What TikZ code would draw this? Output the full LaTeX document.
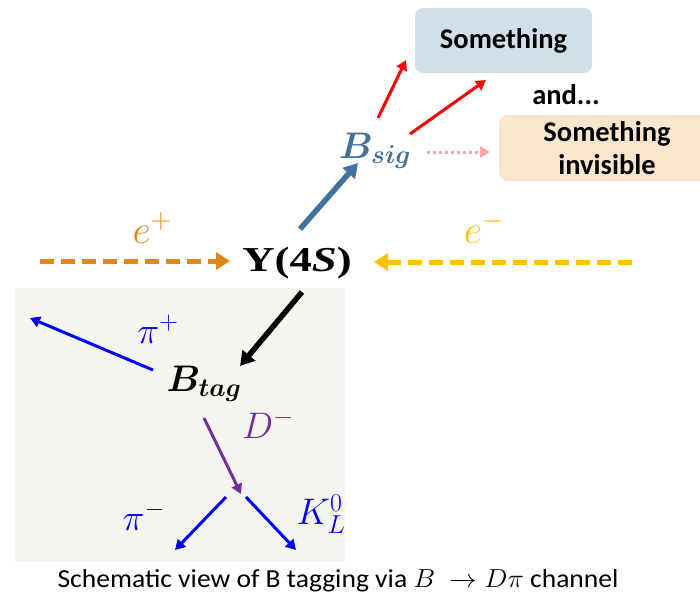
\RequirePackage{fix-cm}
\documentclass[tikz,border=0pt]{standalone}
\usepackage{graphicx}
\usepackage{fontspec}
\setmainfont{Carlito}
\newfontfamily\upsfont{Liberation Serif}
\usepackage{bm}
\usetikzlibrary{arrows.meta}
\definecolor{sigblue}{HTML}{41719C}
\definecolor{boxblue}{HTML}{D0E0EA}
\definecolor{boxpeach}{HTML}{FBE5CD}
\definecolor{eplus}{HTML}{E0861A}
\definecolor{eminus}{HTML}{FFC000}
\definecolor{pinkd}{HTML}{F8A8A8}
\definecolor{dpurple}{HTML}{7030A0}
\definecolor{bgray}{HTML}{F6F6F1}
\definecolor{pblue}{HTML}{0000FF}
\begin{document}
\begin{tikzpicture}[x=1pt,y=-1pt,
  box/.style={rounded corners=8pt, inner sep=0pt, align=center, font=\fontsize{28.5}{33}\selectfont\bfseries},
  particle/.style={inner sep=1pt, font=\fontsize{37}{40}\selectfont},
  lbl/.style={inner sep=1pt, font=\fontsize{37}{40}\selectfont},
  thickarrow/.style={line width=5.5pt, -{Triangle[length=14pt,width=16pt]}},
  thinarrow/.style={line width=3pt, -{Triangle[length=10pt,width=11pt]}},
  beam/.style={line width=5pt, dash pattern=on 14pt off 7pt, -{Triangle[length=14pt,width=17pt]}}
]
\useasboundingbox (0,0) rectangle (700,600);
\fill[bgray] (15,288) rectangle (345,562);

% boxes
\node[box, fill=boxblue, minimum width=177pt, minimum height=65pt] (s1) at (503.5,40.5) {Something};
\begin{scope}
\clip (0,0) rectangle (700,600);
\node[box, fill=boxpeach, minimum width=216pt, minimum height=66pt] (s2) at (607,148) {Something\\invisible};
\end{scope}
\node[font=\fontsize{28.5}{30}\selectfont\bfseries, inner sep=0pt] (and) at (566,95) {and...};

% particles
\node[particle, font=\fontsize{35}{38}\selectfont] (ups) at (297,263) {\scalebox{1.28}[1]{\upsfont\bfseries Υ(4\textit{S})}};
\node[particle, text=sigblue] (bsig) at (375,151) {$\bm{B_{sig}}$};
\node[particle] (btag) at (204,384) {$\bm{B_{tag}}$};

% beams
\coordinate (ep0) at (40,261);
\coordinate (ep1) at (230,261);
\coordinate (em0) at (632,262);
\coordinate (em1) at (374,262);
\draw[beam, eplus] (ep0) -- (ep1);
\draw[beam, eminus] (em0) -- (em1);
\node[lbl, font=\fontsize{40}{42}\selectfont, text=eplus] (eplab) at (152,228) {$e^{+}$};
\node[lbl, font=\fontsize{40}{42}\selectfont, text=eminus] (emlab) at (484,228) {$e^{-}$};

% Upsilon decays
\coordinate (u1) at (300,229);
\coordinate (u2) at (302,292);
\coordinate (u3) at (358,163);
\coordinate (u4) at (240,366);
\draw[thickarrow, sigblue] (u1) -- (u3);
\draw[thickarrow, black] (u2) -- (u4);

% B_sig decays
\coordinate (r1a) at (378,118);
\coordinate (r1b) at (406,60);
\coordinate (r2a) at (410,134);
\coordinate (r2b) at (486,80);
\draw[thinarrow, red] (r1a) -- (r1b);
\draw[thinarrow, red] (r2a) -- (r2b);
\coordinate (pa) at (427,152);
\coordinate (pb) at (490,152);
\draw[line width=3pt, pinkd, dash pattern=on 3pt off 3pt, -{Triangle[length=10pt,width=11pt]}] (pa) -- (pb);

% B_tag decays
\coordinate (pip0) at (153,370);
\coordinate (pip1) at (30,318);
\draw[thinarrow, pblue] (pip0) -- (pip1);
\node[lbl, text=pblue] (piplab) at (158,329) {$\pi^{+}$};
\coordinate (d0) at (204,418);
\coordinate (d1) at (241,494);
\draw[thinarrow, dpurple] (d0) -- (d1);
\node[lbl, text=dpurple] (dlab) at (268,424) {$D^{-}$};
\coordinate (pim0) at (226,497);
\coordinate (pim1) at (175,550);
\draw[thinarrow, pblue] (pim0) -- (pim1);
\node[lbl, text=pblue] (pimlab) at (144,516) {$\pi^{-}$};
\coordinate (k0) at (246,497);
\coordinate (k1) at (296,550);
\draw[thinarrow, pblue] (k0) -- (k1);
\node[lbl, text=pblue] (klab) at (321,514) {$K_L^{0}$};

% caption
\node[font=\fontsize{26}{30}\selectfont, inner sep=0pt] (cap) at (338,581) {\scalebox{1.06}[1]{Schematic view of B tagging via $B\ \rightarrow D\pi$ channel}};
\end{tikzpicture}
\end{document}
